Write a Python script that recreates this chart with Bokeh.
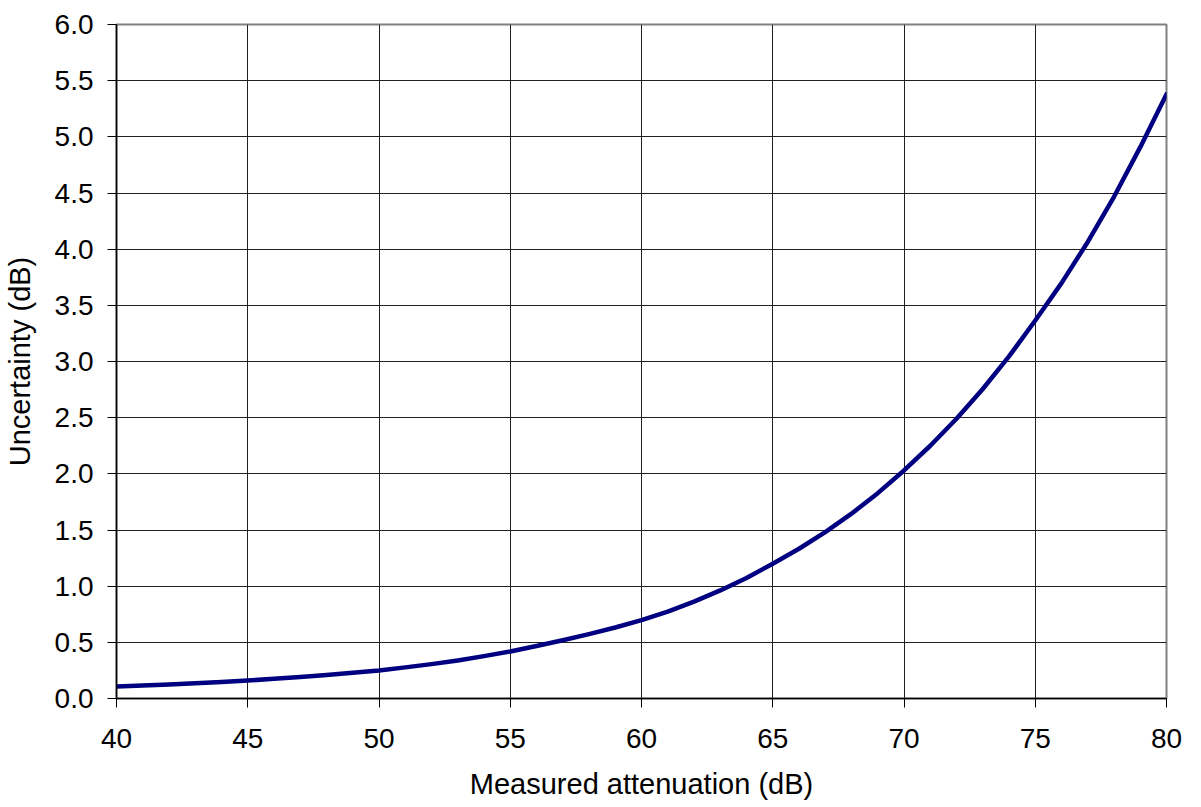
from bokeh.plotting import figure
from bokeh.models import Range1d, FixedTicker, NumeralTickFormatter
from bokeh.embed import file_html
from bokeh.resources import INLINE

attenuation_db = [40, 41, 42, 43, 44, 45, 46, 47, 48, 49, 50, 51, 52, 53, 54, 55, 56, 57, 58, 59,
                  60, 61, 62, 63, 64, 65, 66, 67, 68, 69, 70, 71, 72, 73, 74, 75, 76, 77, 78, 79, 80]
uncertainty_db = [0.107, 0.116, 0.125, 0.136, 0.147, 0.160, 0.175, 0.191, 0.209, 0.229,
                  0.250, 0.277, 0.306, 0.339, 0.377, 0.419, 0.468, 0.519, 0.573, 0.632,
                  0.697, 0.774, 0.863, 0.962, 1.073, 1.20, 1.333, 1.481, 1.645, 1.828,
                  2.03, 2.250, 2.490, 2.755, 3.045, 3.365, 3.698, 4.064, 4.466, 4.908, 5.38]
x_ticks = [40, 45, 50, 55, 60, 65, 70, 75, 80]
y_ticks = [0.0, 0.5, 1.0, 1.5, 2.0, 2.5, 3.0, 3.5, 4.0, 4.5, 5.0, 5.5, 6.0]

FONT = "Liberation Sans"

p = figure(width=1185, height=807, output_backend="svg", toolbar_location=None,
           x_range=Range1d(40, 80), y_range=Range1d(0, 6),
           min_border_left=116, min_border_right=19, min_border_top=24, min_border_bottom=109)

p.line(attenuation_db, uncertainty_db, line_color="#000080", line_width=4.5,
       line_join="round", line_cap="round")

p.xaxis.ticker = FixedTicker(ticks=x_ticks)
p.yaxis.ticker = FixedTicker(ticks=y_ticks)
p.yaxis.formatter = NumeralTickFormatter(format="0.0")

p.xaxis.axis_label = "Measured attenuation (dB)"
p.yaxis.axis_label = "Uncertainty (dB)"

for ax in (p.xaxis, p.yaxis):
    ax.axis_label_text_font = FONT
    ax.axis_label_text_font_size = "29px"
    ax.axis_label_text_font_style = "normal"
    ax.axis_label_text_color = "black"
    ax.major_label_text_font = FONT
    ax.major_label_text_font_size = "28px"
    ax.major_label_text_color = "black"
    ax.axis_line_color = "black"
    ax.axis_line_width = 1.5
    ax.major_tick_line_color = "black"
    ax.major_tick_in = 0
    ax.major_tick_out = 9
    ax.minor_tick_line_color = None

p.xaxis.major_label_standoff = 21
p.xaxis.axis_label_standoff = 17
p.yaxis.major_label_standoff = 14
p.yaxis.axis_label_standoff = 16

p.xgrid.ticker = FixedTicker(ticks=x_ticks)
p.ygrid.ticker = FixedTicker(ticks=y_ticks)
for g in (p.xgrid, p.ygrid):
    g.grid_line_color = "#202020"
    g.grid_line_width = 1

p.outline_line_color = "#808080"
p.outline_line_width = 2
p.background_fill_color = "white"
p.border_fill_color = "white"

open("out.html", "w").write(file_html(p, INLINE))
